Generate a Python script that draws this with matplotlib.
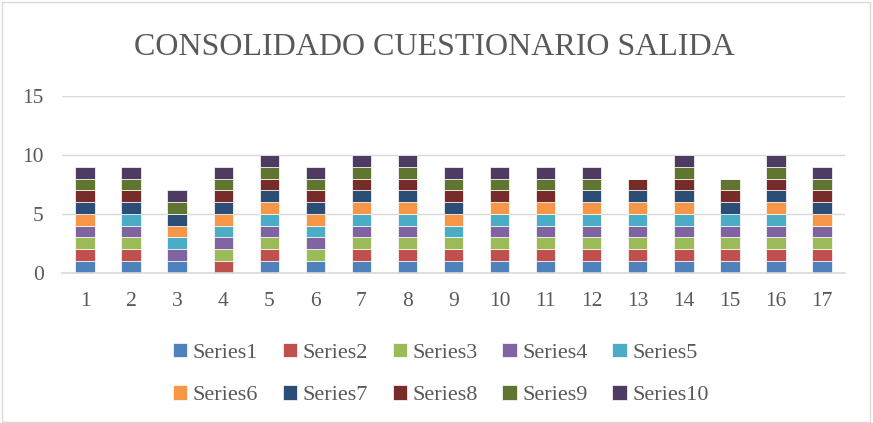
import numpy as np
import matplotlib.pyplot as plt
from matplotlib.patches import Rectangle

categories = [str(i) for i in range(1, 18)]
series1 = [1, 1, 1, 0, 1, 1, 1, 1, 1, 1, 1, 1, 1, 1, 1, 1, 1]
series2 = [1, 1, 0, 1, 1, 0, 1, 1, 1, 1, 1, 1, 1, 1, 1, 1, 1]
series3 = [1, 1, 0, 1, 1, 1, 1, 1, 1, 1, 1, 1, 1, 1, 1, 1, 1]
series4 = [1, 1, 1, 1, 1, 1, 1, 1, 0, 1, 1, 1, 1, 1, 1, 1, 1]
series5 = [0, 1, 1, 1, 1, 1, 1, 1, 1, 1, 1, 1, 1, 1, 1, 1, 0]
series6 = [1, 0, 1, 1, 1, 1, 1, 1, 1, 1, 1, 1, 1, 1, 0, 1, 1]
series7 = [1, 1, 1, 1, 1, 1, 1, 1, 1, 0, 0, 1, 1, 1, 1, 1, 1]
series8 = [1, 1, 0, 1, 1, 1, 1, 1, 1, 1, 1, 0, 1, 1, 1, 1, 1]
series9 = [1, 1, 1, 1, 1, 1, 1, 1, 1, 1, 1, 1, 0, 1, 1, 1, 1]
series10 = [1, 1, 1, 1, 1, 1, 1, 1, 1, 1, 1, 1, 0, 1, 0, 1, 1]
yticks = [0, 5, 10, 15]

all_series = [series1, series2, series3, series4, series5,
              series6, series7, series8, series9, series10]
labels = [f"Series{i}" for i in range(1, 11)]
colors = ["#4F81BD", "#C0504D", "#9BBB59", "#8064A2", "#4BACC6",
          "#F79646", "#2C4D75", "#772C2A", "#5F7530", "#4D3B62"]

plt.rcParams["font.family"] = ["Liberation Serif", "DejaVu Serif"]
text_col = "#595959"

fig = plt.figure(figsize=(8.73, 4.23), dpi=100)
ax = fig.add_axes([0.071, 0.355, 0.897, 0.418])

x = np.arange(len(categories))
bottom = np.zeros(len(categories))
handles = []
for vals, lab, col in zip(all_series, labels, colors):
    vals = np.array(vals, dtype=float)
    h = ax.bar(x, vals, width=0.42, bottom=bottom, color=col, label=lab,
               edgecolor="white", linewidth=0.5)
    handles.append(h)
    bottom += vals

ax.set_xlim(-0.5, len(categories) - 0.5)
ax.set_ylim(0, 15)
ax.set_yticks(yticks)
ax.set_xticks(x)
ax.set_xticklabels(categories)
ax.tick_params(axis="both", length=0, labelsize=15.5, colors=text_col)
ax.tick_params(axis="x", pad=14)
ax.tick_params(axis="y", pad=13)
ax.yaxis.grid(True, color="#D9D9D9", linewidth=1)
ax.set_axisbelow(True)
for s in ["top", "right", "left"]:
    ax.spines[s].set_visible(False)
ax.spines["bottom"].set_color("#D9D9D9")
ax.spines["bottom"].set_linewidth(1.2)

fig.text(0.497, 0.888, "CONSOLIDADO CUESTIONARIO SALIDA", ha="center",
         va="center", fontsize=23, color=text_col)

# legend fills row by row, like the original
order = [0, 5, 1, 6, 2, 7, 3, 8, 4, 9]
fig.legend([handles[i] for i in order], [labels[i] for i in order],
           loc="center", bbox_to_anchor=(0.505, 0.116), ncol=5, frameon=False,
           fontsize=16, labelcolor=text_col, handlelength=0.65,
           handleheight=0.65, handletextpad=0.25, columnspacing=1.1,
           labelspacing=1.0)

fig.add_artist(Rectangle((0.002, 0.003), 0.995, 0.993, transform=fig.transFigure,
                         fill=False, edgecolor="#D9D9D9", linewidth=1))

fig.savefig("out.png", dpi=100)
